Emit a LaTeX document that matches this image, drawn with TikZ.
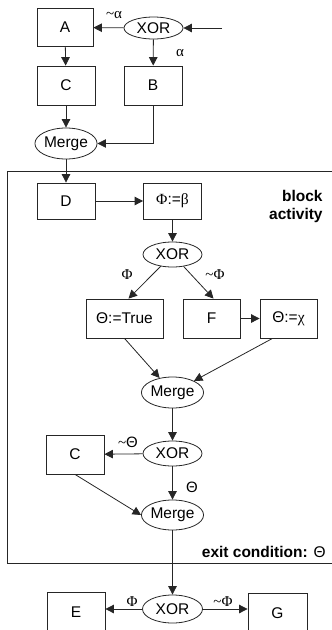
\documentclass[tikz,border=0pt]{standalone}
\usepackage{fontspec}
\setmainfont{Liberation Sans}
\newfontfamily\grk{Liberation Serif}
\usetikzlibrary{arrows.meta,shapes.geometric}
\begin{document}
\begin{tikzpicture}[x=1pt,y=-1pt,
  line width=0.8pt, draw=black!85,
  font=\fontsize{15.5}{18}\selectfont,
  box/.style={draw, rectangle, minimum width=58pt, minimum height=39pt, inner sep=0pt},
  gate/.style={draw, ellipse, minimum width=59pt, minimum height=25pt, inner sep=0pt},
  mrg/.style={draw, ellipse, minimum width=59pt, minimum height=31pt, inner sep=0pt},
  arr/.style={-{Triangle[length=8.5pt,width=8.5pt]}},
  lbl/.style={font=\fontsize{15}{17}\selectfont\grk, inner sep=0pt},
  btxt/.style={font=\fontsize{15.5}{18}\selectfont\bfseries, inner sep=0pt}]
\useasboundingbox (0,0) rectangle (332,630);
\clip (0,0) rectangle (332,630);

% top part
\node[box, minimum width=56pt, minimum height=38pt] (A) at (65,27.5) {A};
\node[gate, minimum height=22pt] (X1) at (153.5,28) {XOR};
\coordinate (in1) at (222,28);
\node[box] (C1) at (66,85.5) {C};
\node[box] (B) at (153,85.5) {B};
\node[mrg] (M1) at (66,143.5) {Merge};

\draw[arr] (in1) -- (X1);
\draw[arr] (X1) -- (A);
\draw[arr] (X1) -- (B);
\draw[arr] (A) -- (C1);
\draw[arr] (C1) -- (M1);
\draw[arr] (B.south) |- (M1.east);
\node[lbl] at (114,15) {\textasciitilde α};
\node[lbl] at (180,53) {α};

% block
\draw (7,171) rectangle (340,563);
\node[btxt, align=right, anchor=north east] (blk) at (323,190) {block\\activity};
\node[btxt, anchor=base east] (ex) at (326,557) {exit condition: {\mdseries Θ}};

\node[box, minimum height=36pt] (D) at (66,201) {D};
\node[box, minimum height=36pt] (P) at (172.5,201) {{\grk Φ}:={\grk β}};
\node[gate] (X2) at (172.5,254.5) {XOR};
\node[box, minimum width=77pt] (T) at (124.5,318.5) {Θ:=True};
\node[box, minimum width=57pt] (F) at (211.5,318.5) {F};
\node[box, minimum width=57pt] (H) at (288.5,318.5) {Θ:={\grk χ}};
\node[mrg] (M2) at (172.5,392.5) {Merge};
\node[box] (C2) at (75,454.5) {C};
\node[gate] (X3) at (172.5,453.5) {XOR};
\node[mrg, minimum height=30pt] (M3) at (172.5,515) {Merge};

\draw[arr] (M1) -- (D);
\draw[arr] (D) -- (P);
\draw[arr] (P) -- (X2);
\draw[arr] (X2) -- ([xshift=4pt]T.north);
\draw[arr] (X2) -- ([xshift=2pt]F.north);
\draw[arr] (F) -- (H);
\draw[arr] (T.south) -- (M2);
\draw[arr] ([xshift=-16pt]H.south) -- (M2);
\draw[arr] (M2) -- (X3);
\draw[arr] (X3) -- (C2);
\draw[arr] (X3) -- (M3);
\draw[arr] (C2.south) -- (M3.west);
\node[lbl] at (127,275) {Φ};
\node[lbl] at (215,275) {\textasciitilde Φ};
\node[lbl, font=\fontsize{15}{17}\selectfont] at (128,442) {{\grk\textasciitilde}Θ};
\node[lbl, font=\fontsize{15}{17}\selectfont] at (192,487) {Θ};

% bottom
\node[gate, minimum height=28pt, minimum width=60pt] (X4) at (172.5,609) {XOR};
\node[box, minimum height=40pt] (E) at (76,612) {E};
\node[box, minimum height=40pt, minimum width=59pt] (G) at (277.5,613) {G};
\draw[arr] (M3) -- (X4);
\draw[arr] (X4) -- (E.east |- X4.west);
\draw[arr] (X4) -- (G.west |- X4.east);
\node[lbl] at (132,602) {Φ};
\node[lbl] at (223,602) {\textasciitilde Φ};
\end{tikzpicture}
\end{document}
